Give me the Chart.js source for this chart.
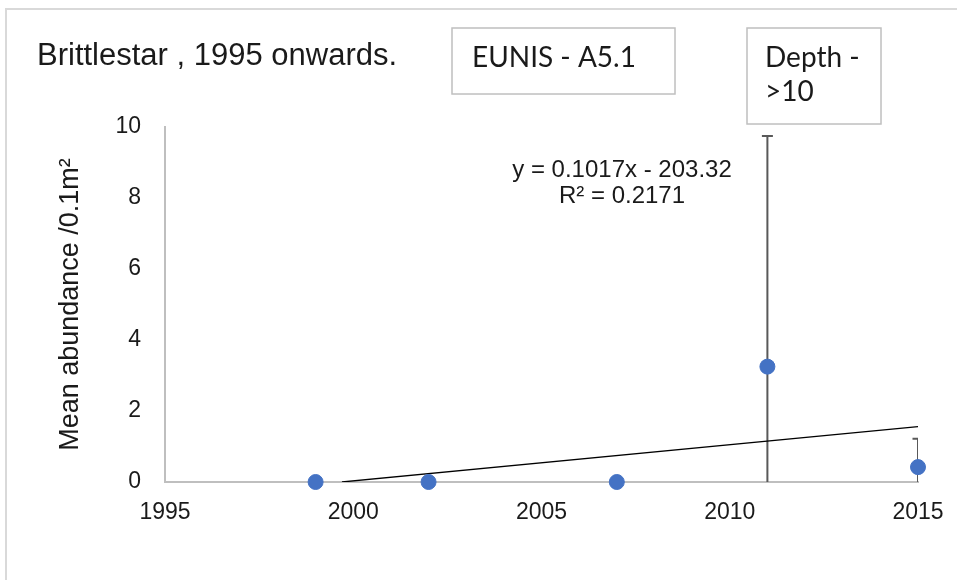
<!DOCTYPE html>
<html>
<head>
<meta charset="utf-8">
<script src="https://cdn.jsdelivr.net/npm/chart.js@4"></script>
<style>
  html, body { margin: 0; padding: 0; background: #fff; }
  #wrap { position: relative; width: 957px; height: 580px; }
</style>
</head>
<body>
<div id="wrap"><canvas id="chart1"></canvas></div>
<script>
// survey years and mean abundance per 0.1m2
var years = [1999, 2002, 2007, 2011, 2015]
var means = [0, 0, 0, 3.25, 0.42]
var errs = [0, 0, 0, 6.5, 0.8]   // +/- error bar size

// linear trendline ends as drawn (clipped at y = 0)
var trendX = [1999.7, 2015]
var trendY = [0, 1.56]

var xTicks = [1995, 2000, 2005, 2010, 2015]
var yTicks = [0, 2, 4, 6, 8, 10]

var titleText = 'Brittlestar , 1995 onwards.'
var eqLines = ['y = 0.1017x - 203.32', 'R\u00b2 = 0.2171']
var box1Lines = ['EUNIS - A5.1']
var box2Lines = ['Depth -', '>10']

var blue = '#4472C4'
var axisGrey = '#bfbfbf'

var points = []
for (var i = 0; i < years.length; i++) {
    points.push({x: years[i], y: means[i]})
}
var trend = []
for (i = 0; i < trendX.length; i++) {
    trend.push({x: trendX[i], y: trendY[i]})
}

// error bars, drawn under the markers and clipped to the plot area
var errorBars = {
    id: 'errorBars',
    beforeDatasetsDraw: function(chart) {
        var ctx = chart.ctx
        var a = chart.chartArea
        var xs = chart.scales.x
        var ys = chart.scales.y
        ctx.save()
        ctx.beginPath()
        ctx.rect(a.left, a.top, a.right - a.left, a.bottom - a.top)
        ctx.clip()
        ctx.strokeStyle = '#595959'
        ctx.lineWidth = 2
        for (var i = 0; i < years.length; i++) {
            if (!errs[i]) continue
            var px = xs.getPixelForValue(years[i])
            var top = ys.getPixelForValue(means[i] + errs[i])
            var bot = ys.getPixelForValue(means[i] - errs[i])
            ctx.beginPath()
            ctx.moveTo(px, top)
            ctx.lineTo(px, bot)
            ctx.moveTo(px - 5.5, top)
            ctx.lineTo(px + 5.5, top)
            ctx.moveTo(px - 5.5, bot)
            ctx.lineTo(px + 5.5, bot)
            ctx.stroke()
        }
        ctx.restore()
    }
}

function drawBox(ctx, x, y, w, h, lines, x0, y0, dy) {
    ctx.strokeStyle = '#bfbfbf'
    ctx.lineWidth = 1.5
    ctx.strokeRect(x, y, w, h)
    for (var i = 0; i < lines.length; i++) {
        ctx.fillText(lines[i], x0, y0 + i * dy)
    }
}

// chart title, text boxes, trendline label and outer frame
var decorations = {
    id: 'decorations',
    afterDraw: function(chart) {
        var ctx = chart.ctx
        ctx.save()
        ctx.strokeStyle = '#d9d9d9'
        ctx.lineWidth = 2
        ctx.beginPath()
        ctx.moveTo(6, 580)
        ctx.lineTo(6, 9)
        ctx.lineTo(957, 9)
        ctx.stroke()

        ctx.fillStyle = '#1a1a1a'
        ctx.textBaseline = 'alphabetic'
        ctx.textAlign = 'left'
        ctx.font = '31px "Liberation Sans", Arial, sans-serif'
        ctx.fillText(titleText, 37, 65)

        ctx.font = '28px Lato, "Open Sans", sans-serif'
        drawBox(ctx, 452, 28, 223, 66, box1Lines, 472, 67, 0)
        drawBox(ctx, 747, 28, 134, 96, box2Lines, 765, 67, 34)

        ctx.textAlign = 'center'
        ctx.font = '24px "Liberation Sans", Arial, sans-serif'
        for (var i = 0; i < eqLines.length; i++) {
            ctx.fillText(eqLines[i], 622, 177 + i * 26)
        }
        ctx.restore()
    }
}

window.onload = function() {
    new Chart(document.getElementById('chart1'), {
        type: 'scatter',
        data: {
            datasets: [{
                type: 'line',
                label: 'Linear trend',
                data: trend,
                borderColor: '#000',
                borderWidth: 1.3,
                pointRadius: 0,
                fill: false,
                order: 1
            }, {
                label: 'Mean abundance',
                data: points,
                backgroundColor: blue,
                borderColor: blue,
                pointRadius: 7.5,
                pointHoverRadius: 7.5,
                clip: false,
                order: 0
            }]
        },
        options: {
            responsive: true,
            maintainAspectRatio: false,
            animation: false,
            events: [],
            layout: {
                padding: {left: 0, right: 39, top: 127, bottom: 58}
            },
            plugins: {
                legend: {display: false},
                title: {display: false},
                tooltip: {enabled: false}
            },
            scales: {
                x: {
                    type: 'linear',
                    min: 1995,
                    max: 2015,
                    afterBuildTicks: function(axis) {
                        axis.ticks = xTicks.map(function(v) { return {value: v} })
                    },
                    afterFit: function(axis) {
                        axis.height = 40
                        axis.paddingLeft = 0
                        axis.paddingRight = 0
                    },
                    grid: {display: false, drawTicks: false},
                    border: {display: true, color: axisGrey, width: 2},
                    ticks: {
                        padding: 17,
                        color: '#1a1a1a',
                        font: {family: '"Liberation Sans", Arial, sans-serif', size: 23},
                        maxRotation: 0,
                        callback: function(v) { return String(v) }
                    }
                },
                y: {
                    min: 0,
                    max: 10,
                    afterBuildTicks: function(axis) {
                        axis.ticks = yTicks.map(function(v) { return {value: v} })
                    },
                    afterFit: function(axis) { axis.width = 165 },
                    grid: {display: false, drawTicks: false},
                    border: {display: true, color: axisGrey, width: 2},
                    ticks: {
                        padding: 24,
                        color: '#1a1a1a',
                        font: {family: '"Liberation Sans", Arial, sans-serif', size: 23},
                        callback: function(v) { return String(v) }
                    },
                    title: {
                        display: true,
                        text: 'Mean abundance /0.1m\u00b2',
                        color: '#1a1a1a',
                        font: {family: '"Liberation Sans", Arial, sans-serif', size: 27},
                        padding: {top: 54, bottom: 0}
                    }
                }
            }
        },
        plugins: [errorBars, decorations]
    });
};
</script>
</body>
</html>
